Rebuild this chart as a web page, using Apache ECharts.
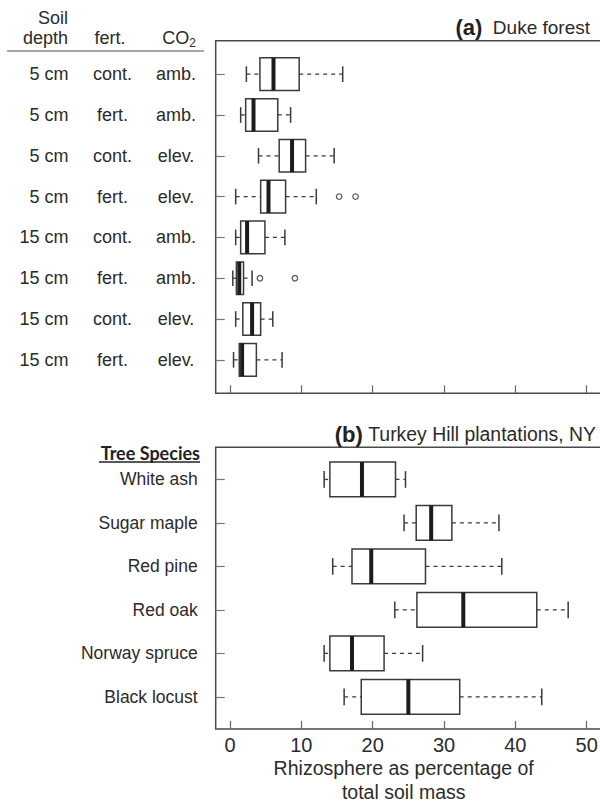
<!DOCTYPE html>
<html>
<head>
<meta charset="utf-8">
<title>Rhizosphere share of soil mass</title>
<script src="https://cdn.jsdelivr.net/npm/echarts@6/dist/echarts.min.js"></script>
<style>
  html, body { margin: 0; padding: 0; background: #fff; }
  #chart { width: 600px; height: 802px; }
</style>
</head>
<body>
<div id="chart"></div>
<script>
// Panel (a): Duke forest, one row per depth / fertilization / CO2 treatment
const soilDepth = ['5 cm', '5 cm', '5 cm', '5 cm', '15 cm', '15 cm', '15 cm', '15 cm'];
const fertilization = ['cont.', 'fert.', 'cont.', 'fert.', 'cont.', 'fert.', 'cont.', 'fert.'];
const co2Level = ['amb.', 'amb.', 'elev.', 'elev.', 'amb.', 'amb.', 'elev.', 'elev.'];
// five-number summaries: lower whisker, Q1, median, Q3, upper whisker
const dukeLow    = [2.3, 1.5, 4.0, 0.8, 0.8, 0.4, 0.8, 0.5];
const dukeQ1     = [4.2, 2.2, 6.9, 4.3, 1.5, 0.9, 1.8, 1.3];
const dukeMedian = [6.1, 3.3, 8.7, 5.4, 2.4, 1.3, 3.1, 1.7];
const dukeQ3     = [9.7, 6.7, 10.6, 7.8, 4.9, 1.9, 4.3, 3.7];
const dukeHigh   = [15.8, 8.5, 14.6, 12.1, 7.7, 3.1, 6.0, 7.3];
// outliers as [row number, value]
const dukeOutliers = [[4, 15.3], [4, 17.6], [6, 4.2], [6, 9.1]];

// Panel (b): Turkey Hill plantations, one row per tree species
const treeSpecies = ['White ash', 'Sugar maple', 'Red pine', 'Red oak', 'Norway spruce', 'Black locust'];
const treeLow    = [13.2, 24.4, 14.4, 23.1, 13.2, 16.0];
const treeQ1     = [14.0, 26.1, 17.1, 26.2, 14.0, 18.4];
const treeMedian = [18.5, 28.2, 19.8, 32.7, 17.1, 25.0];
const treeQ3     = [23.2, 31.1, 27.4, 43.0, 21.6, 32.2];
const treeHigh   = [24.6, 37.7, 38.1, 47.4, 27.0, 43.7];

const xTicks = [0, 10, 20, 30, 40, 50];
const xTitle = 'Rhizosphere as percentage of\ntotal soil mass';

const INK = '#2b2b2b';
const FRAME = '#4a4a4a';
const SANS = '"Liberation Sans", Arial, sans-serif';

function rowsOf(low, q1, med, q3, high) {
  return low.map((v, i) => [i + 1, v, q1[i], med[i], q3[i], high[i]]);
}
const dukeRows = soilDepth.map((d, i) => i + 1);
const treeRows = treeSpecies.map((d, i) => i + 1);

// Box-and-whisker glyph drawn in the style of base R graphics
function renderBox(params, api) {
  const row = api.value(0);
  const lo = api.coord([api.value(1), row]);
  const q1 = api.coord([api.value(2), row]);
  const md = api.coord([api.value(3), row]);
  const q3 = api.coord([api.value(4), row]);
  const hi = api.coord([api.value(5), row]);
  const y = lo[1];
  const half = api.size([0, 1])[1] * 0.4;
  const cap = half * 0.48;
  const dashed = { stroke: '#3a3a3a', lineWidth: 1.3, lineDash: [4, 4] };
  const solid = { stroke: '#3a3a3a', lineWidth: 1.5 };
  return {
    type: 'group',
    children: [
      { type: 'line', shape: { x1: lo[0], y1: y, x2: q1[0], y2: y }, style: dashed },
      { type: 'line', shape: { x1: q3[0], y1: y, x2: hi[0], y2: y }, style: dashed },
      { type: 'line', shape: { x1: lo[0], y1: y - cap, x2: lo[0], y2: y + cap }, style: solid },
      { type: 'line', shape: { x1: hi[0], y1: y - cap, x2: hi[0], y2: y + cap }, style: solid },
      { type: 'rect', shape: { x: q1[0], y: y - half, width: q3[0] - q1[0], height: 2 * half },
        style: { fill: '#fff', stroke: '#3a3a3a', lineWidth: 1.5 } },
      { type: 'line', shape: { x1: md[0], y1: y - half, x2: md[0], y2: y + half },
        style: { stroke: '#1c1c1c', lineWidth: 4 } }
    ]
  };
}

const chart = echarts.init(document.getElementById('chart'), null, { renderer: 'svg' });

const xCommon = {
  type: 'value',
  position: 'bottom',
  min: -2,
  max: 52.66,
  splitLine: { show: false },
  axisLine: { show: false, onZero: false },
  axisTick: { show: true, inside: true, length: 8, customValues: xTicks,
              lineStyle: { color: '#666', width: 1.2 } }
};

// Row axis for panel (a); extra copies carry the other label columns
function dukeAxis(labels, margin, align, withTicks) {
  return {
    gridIndex: 0, type: 'value', position: 'left', offset: 0,
    inverse: true, min: 0.18, max: 8.82,
    splitLine: { show: false }, axisLine: { show: false, onZero: false },
    axisTick: { show: withTicks, inside: true, length: 9, customValues: dukeRows,
                lineStyle: { color: '#777', width: 1.2 } },
    axisLabel: {
      show: true, customValues: dukeRows, margin: margin, align: align,
      fontSize: 18, color: INK,
      formatter: (v) => labels[Math.round(v) - 1]
    }
  };
}

const option = {
  animation: false,
  textStyle: { fontFamily: SANS },
  grid: [
    { left: 215.7, top: 40.7, width: 390, height: 352.6, show: true, outerBoundsMode: 'none',
      borderColor: FRAME, borderWidth: 1.5, backgroundColor: 'transparent' },
    { left: 215.7, top: 447.3, width: 390, height: 281.7, show: true, outerBoundsMode: 'none',
      borderColor: FRAME, borderWidth: 1.5, backgroundColor: 'transparent' }
  ],
  xAxis: [
    Object.assign({}, xCommon, { gridIndex: 0, axisLabel: { show: false } }),
    Object.assign({}, xCommon, {
      gridIndex: 1,
      axisLabel: { show: true, customValues: xTicks, fontSize: 20, color: INK, margin: 6 },
      name: xTitle,
      nameLocation: 'middle',
      nameGap: 25,
      nameTextStyle: { fontSize: 19.5, color: INK, lineHeight: 24, padding: [0, 14, 0, 0] }
    })
  ],
  yAxis: [
    dukeAxis(co2Level, 39.7, 'center', true),
    {
      gridIndex: 1, type: 'value', position: 'left', inverse: true, min: 0.26, max: 6.74,
      splitLine: { show: false }, axisLine: { show: false, onZero: false },
      axisTick: { show: true, inside: true, length: 9, customValues: treeRows,
                  lineStyle: { color: '#777', width: 1.2 } },
      axisLabel: {
        show: true, customValues: treeRows, margin: 18,
        fontSize: 17.5, color: INK,
        formatter: (v) => treeSpecies[Math.round(v) - 1]
      }
    },
    dukeAxis(fertilization, 103.2, 'center', false),
    dukeAxis(soilDepth, 147.2, 'right', false)
  ],
  series: [
    {
      type: 'custom', xAxisIndex: 0, yAxisIndex: 0,
      renderItem: renderBox,
      encode: { x: [1, 2, 3, 4, 5], y: 0 },
      data: rowsOf(dukeLow, dukeQ1, dukeMedian, dukeQ3, dukeHigh)
    },
    {
      type: 'scatter', xAxisIndex: 0, yAxisIndex: 0,
      symbol: 'circle', symbolSize: 5.5,
      itemStyle: { color: '#fff', borderColor: '#333', borderWidth: 1.3 },
      data: dukeOutliers.map(([row, v]) => [v, row])
    },
    {
      type: 'custom', xAxisIndex: 1, yAxisIndex: 1,
      renderItem: renderBox,
      encode: { x: [1, 2, 3, 4, 5], y: 0 },
      data: rowsOf(treeLow, treeQ1, treeMedian, treeQ3, treeHigh)
    }
  ],
  graphic: [
    // column headings of panel (a)
    { type: 'text', x: 68, y: 18, style: { text: 'Soil', font: '18px ' + SANS, fill: INK, align: 'right', verticalAlign: 'middle' } },
    { type: 'text', x: 68, y: 38, style: { text: 'depth', font: '18px ' + SANS, fill: INK, align: 'right', verticalAlign: 'middle' } },
    { type: 'text', x: 110, y: 38, style: { text: 'fert.', font: '18px ' + SANS, fill: INK, align: 'center', verticalAlign: 'middle' } },
    { type: 'text', x: 179, y: 38, style: {
        text: '{n|CO}{s|2}', align: 'center', verticalAlign: 'middle',
        rich: {
          n: { fontSize: 18, lineHeight: 22, fontFamily: SANS, fill: INK },
          s: { fontSize: 12, lineHeight: 12, fontFamily: SANS, fill: INK, verticalAlign: 'bottom' }
        }
    } },
    { type: 'line', shape: { x1: 7, y1: 51, x2: 204, y2: 51 }, style: { stroke: '#8a8a8a', lineWidth: 1.5 } },
    // panel titles
    { type: 'text', x: 590, y: 27, style: {
        text: '{b|(a)}{r|  Duke forest}', align: 'right', verticalAlign: 'middle',
        rich: {
          b: { fontSize: 22, fontWeight: 'bold', fontFamily: SANS, fill: '#222' },
          r: { fontSize: 19, fontFamily: SANS, fill: INK }
        }
    } },
    { type: 'text', x: 596, y: 434, style: {
        text: '{b|(b)}{r| Turkey Hill plantations, NY}', align: 'right', verticalAlign: 'middle',
        rich: {
          b: { fontSize: 22, fontWeight: 'bold', fontFamily: SANS, fill: '#222' },
          r: { fontSize: 19.4, fontFamily: SANS, fill: INK }
        }
    } },
    // heading above the species names
    { type: 'text', x: 200, y: 453, style: { text: 'Tree Species', font: 'bold 18px Lato, ' + SANS, fill: '#222', align: 'right', verticalAlign: 'middle' } },
    { type: 'line', shape: { x1: 99, y1: 462, x2: 200, y2: 462 }, style: { stroke: '#222', lineWidth: 1.4 } }
  ]
};

chart.setOption(option);
</script>
</body>
</html>
